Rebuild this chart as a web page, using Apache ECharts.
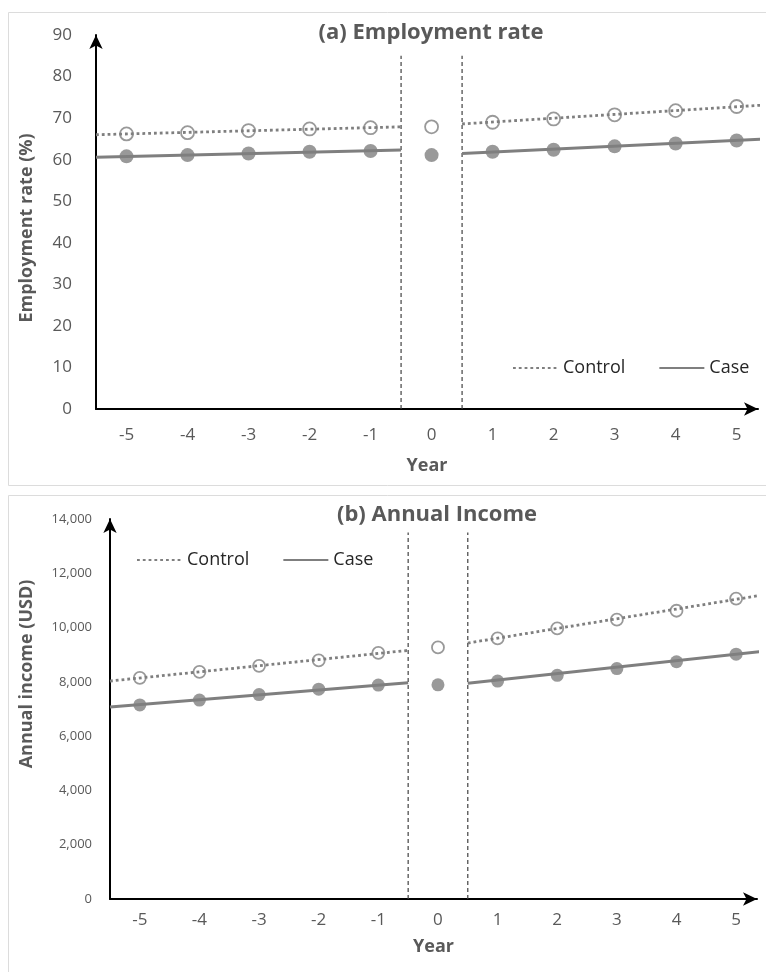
<!DOCTYPE html>
<html>
<head>
<meta charset="utf-8">
<script src="https://cdn.jsdelivr.net/npm/echarts@6/dist/echarts.min.js"></script>
<style>
html,body{margin:0;padding:0;background:#fff;}
#c{width:766px;height:972px;}
</style>
</head>
<body>
<div id="c"></div>
<script>
// ---- data ----
const years = [-5, -4, -3, -2, -1, 0, 1, 2, 3, 4, 5];
const empControl = [66.2, 66.5, 67.0, 67.4, 67.7, 67.9, 69.0, 69.8, 70.8, 71.8, 72.8];
const empCase    = [60.8, 61.1, 61.5, 61.9, 62.1, 61.1, 61.9, 62.4, 63.2, 63.9, 64.6];
const empControlTrendPre  = [[-5.5, 66.0], [-0.5, 67.9]];
const empControlTrendPost = [[0.5, 68.6], [5.4, 73.1]];
const empCaseTrendPre     = [[-5.5, 60.6], [-0.5, 62.3]];
const empCaseTrendPost    = [[0.5, 61.5], [5.4, 64.9]];
const empSeparators = [[[-0.5, 0], [-0.5, 85]], [[0.5, 0], [0.5, 85]]];

const incControl = [8150, 8370, 8590, 8790, 9070, 9270, 9600, 9970, 10290, 10620, 11070];
const incCase    = [7150, 7330, 7530, 7730, 7880, 7890, 8030, 8240, 8490, 8740, 9020];
const incControlTrendPre  = [[-5.5, 8030], [-0.5, 9160]];
const incControlTrendPost = [[0.5, 9430], [5.5, 11220]];
const incCaseTrendPre     = [[-5.5, 7070], [-0.5, 7970]];
const incCaseTrendPost    = [[0.5, 7950], [5.5, 9140]];
const incSeparators = [[[-0.5, 0], [-0.5, 13500]], [[0.5, 0], [0.5, 13500]]];

const empTicks = [0, 10, 20, 30, 40, 50, 60, 70, 80, 90];
const incTicks = [0, 2000, 4000, 6000, 8000, 10000, 12000, 14000];

// ---- style ----
const FONT = 'Open Sans';
const GREY = '#7f7f7f';
const TXT = '#595959';

const pairs = (arr) => years.map((y, i) => [y, arr[i]]);

function xAxisCfg(gi, gap, margin) {
  return {
    gridIndex: gi, type: 'value', min: -5.5, max: 5.35,
    axisLine: { show: true, onZero: false, symbol: ['none', 'arrow'], symbolSize: [10, 14],
      lineStyle: { color: '#000', width: 2 } },
    axisTick: { show: false }, splitLine: { show: false },
    axisLabel: { customValues: years, formatter: (v) => String(v), color: TXT, fontSize: 17,
      margin: margin, fontFamily: FONT },
    name: 'Year', nameLocation: 'middle', nameGap: gap, nameMoveOverlap: false,
    nameTextStyle: { fontWeight: 'bold', fontSize: 18, color: TXT, fontFamily: FONT }
  };
}
function yAxisCfg(gi, name, max, interval, ticks, fs, margin, gap, shift, fmt) {
  return {
    gridIndex: gi, type: 'value', min: 0, max: max, interval: interval,
    axisLine: { show: true, onZero: false, symbol: ['none', 'arrow'], symbolSize: [10, 14],
      lineStyle: { color: '#000', width: 2 } },
    axisTick: { show: false }, splitLine: { show: false },
    axisLabel: { customValues: ticks, formatter: fmt, color: TXT, fontSize: fs, margin: margin, fontFamily: FONT },
    name: name, nameLocation: 'middle', nameGap: gap, nameMoveOverlap: false,
    nameTextStyle: { fontWeight: 'bold', fontSize: 18, color: TXT, fontFamily: FONT, padding: shift }
  };
}
function trend(name, gi, data, dotted) {
  return {
    name: name, type: 'line', xAxisIndex: gi, yAxisIndex: gi, data: data,
    symbol: 'none', z: 3, silent: true,
    lineStyle: { color: GREY, width: dotted ? 2.8 : 3, type: dotted ? [2.8, 3] : 'solid' },
    itemStyle: { color: GREY }
  };
}
function sep(gi, data) {
  return {
    name: 'sep', type: 'line', xAxisIndex: gi, yAxisIndex: gi, data: data,
    symbol: 'none', z: 1, silent: true,
    lineStyle: { color: '#404040', width: 1.2, type: [4, 3] }
  };
}
function pts(name, gi, data, open, size) {
  return {
    name: name, type: 'scatter', xAxisIndex: gi, yAxisIndex: gi, data: data,
    symbol: 'circle', symbolSize: size, z: open ? 2 : 4, silent: true,
    itemStyle: open ? { color: '#fff', borderColor: GREY, borderWidth: 1.8 } : { color: GREY }
  };
}

const chart = echarts.init(document.getElementById('c'), null, { renderer: 'canvas' });
chart.setOption({
  backgroundColor: '#fff',
  animation: false,
  textStyle: { fontFamily: FONT },
  title: [
    { text: '(a) Employment rate', left: 431, top: 22, textAlign: 'center', padding: 0,
      textStyle: { fontSize: 22, fontWeight: 'bold', color: TXT, fontFamily: FONT } },
    { text: '(b) Annual Income', left: 437, top: 504, textAlign: 'center', padding: 0,
      textStyle: { fontSize: 22, fontWeight: 'bold', color: TXT, fontFamily: FONT } }
  ],
  legend: [
    { data: ['Control', 'Case'], left: 512, top: 359, itemWidth: 45, itemHeight: 10, itemGap: 33, padding: 0,
      itemStyle: { opacity: 0 }, selectedMode: false,
      textStyle: { fontSize: 18, color: '#262626', fontFamily: FONT } },
    { data: ['Control', 'Case'], left: 136, top: 551, itemWidth: 45, itemHeight: 10, itemGap: 33, padding: 0,
      itemStyle: { opacity: 0 }, selectedMode: false,
      textStyle: { fontSize: 18, color: '#262626', fontFamily: FONT } }
  ],
  grid: [
    { left: 96, top: 35, width: 662, height: 374, outerBoundsMode: 'none', containLabel: false },
    { left: 110, top: 519, width: 647, height: 380, outerBoundsMode: 'none', containLabel: false }
  ],
  xAxis: [xAxisCfg(0, 48, 18), xAxisCfg(1, 39, 13)],
  yAxis: [
    yAxisCfg(0, 'Employment rate (%)', 90, 10, empTicks, 17, 24, 60, [0, 12, 0, 0], (v) => String(v)),
    yAxisCfg(1, 'Annual income (USD)', 14000, 2000, incTicks, 13, 18, 74, [0, 0, 0, 70], (v) => v.toLocaleString('en-US'))
  ],
  graphic: [
    { type: 'rect', silent: true, z: -10, shape: { x: 8.5, y: 12.5, width: 770, height: 473 },
      style: { fill: 'none', stroke: '#dcdcdc', lineWidth: 1 } },
    { type: 'rect', silent: true, z: -10, shape: { x: 8.5, y: 495.5, width: 770, height: 490 },
      style: { fill: 'none', stroke: '#dcdcdc', lineWidth: 1 } }
  ],
  series: [
    sep(0, empSeparators[0]), sep(0, empSeparators[1]),
    pts('Control points', 0, pairs(empControl), true, 13),
    trend('Control', 0, empControlTrendPre, true),
    trend('Control', 0, empControlTrendPost, true),
    trend('Case', 0, empCaseTrendPre, false),
    trend('Case', 0, empCaseTrendPost, false),
    pts('Case points', 0, pairs(empCase), false, 14),

    sep(1, incSeparators[0]), sep(1, incSeparators[1]),
    pts('Control points', 1, pairs(incControl), true, 12),
    trend('Control', 1, incControlTrendPre, true),
    trend('Control', 1, incControlTrendPost, true),
    trend('Case', 1, incCaseTrendPre, false),
    trend('Case', 1, incCaseTrendPost, false),
    pts('Case points', 1, pairs(incCase), false, 13)
  ]
});
</script>
</body>
</html>
